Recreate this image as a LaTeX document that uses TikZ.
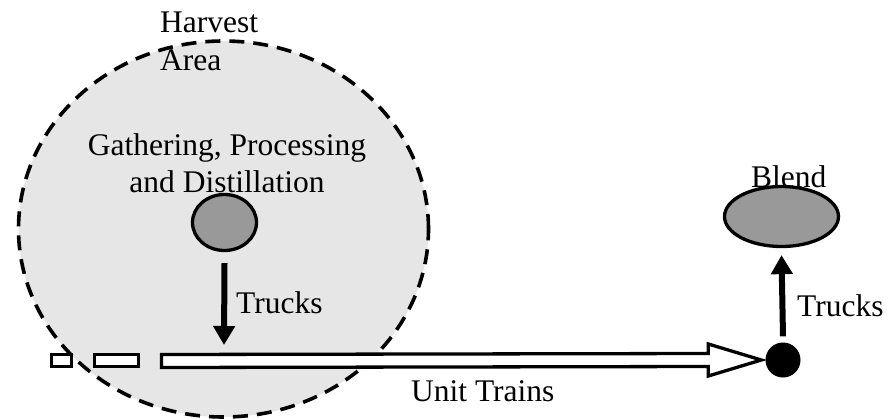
\documentclass[tikz,border=0pt]{standalone}
\usepackage{fontspec}
\setmainfont{Liberation Serif}
\usetikzlibrary{arrows.meta,calc,shapes.geometric}
\definecolor{areafill}{HTML}{E6E6E6}
\definecolor{sitefill}{HTML}{999999}
\begin{document}
\begin{tikzpicture}[x=1pt,y=-1pt,
  txt/.style={font=\fontsize{31.5}{37.5}\selectfont, inner sep=0pt},
  site/.style={shape=ellipse, draw, line width=3.3pt, fill=sitefill, inner sep=0pt},
  truckarrow/.style={line width=6pt, -{Triangle[length=19pt,width=21pt]}},
  wagon/.style={draw, line width=3.3pt, fill=white},
  trainarrow/.style={draw, line width=3.3pt, fill=white, line join=miter}]
\useasboundingbox (0,0) rectangle (892,418);

% harvest area
\node[shape=ellipse, draw, line width=3.6pt, dash pattern=on 15pt off 9pt,
      fill=areafill, minimum width=410pt, minimum height=376pt, inner sep=0pt]
  (area) at (223.5,229) {};
\node[txt, align=left, anchor=north west] (areatxt) at (160,12) {Harvest\\Area};
\node[txt, align=center, anchor=north] (gptxt) at (227,133)
  {Gathering, Processing\\and Distillation};

% processing site and blending site
\node[site, minimum width=64pt, minimum height=56pt] (proc) at (224.5,222.5) {};
\node[site, minimum width=114pt, minimum height=60pt] (blend) at (781.5,216.5) {};
\node[txt, anchor=base west] (blendtxt) at (751,187) {Blend};

% rail terminal
\node[shape=circle, fill=black, minimum size=35pt, inner sep=0pt] (dot) at (783,360) {};

% unit trains
\node[wagon, minimum width=20pt, minimum height=12pt, inner sep=0pt] (w1) at (61.5,360.5) {};
\node[wagon, minimum width=44pt, minimum height=12pt, inner sep=0pt] (w2) at (116.5,360.5) {};
\coordinate (tstart) at (161.5,361);
\coordinate (ttip) at ($(dot.west)+(-4,0)$);
\draw[trainarrow] ($(tstart)+(0,-6.5)$) -- ($(ttip)+(-53,-6.5)$) -- ($(ttip)+(-53,-16)$)
  -- (ttip) -- ($(ttip)+(-53,16)$) -- ($(ttip)+(-53,6.5)$) -- ($(tstart)+(0,6.5)$) -- cycle;
\node[txt, anchor=base west] (traintxt) at (411,401) {Unit Trains};

% trucks
\coordinate (drop) at (224,345);
\draw[truckarrow] ($(proc.south)+(0,11)$) -- (drop);
\node[txt, anchor=base west] (truck1) at (236,313) {Trucks};
\draw[truckarrow] ($(dot.north)+(0,-6)$) -- ($(blend.south)+(0,7)$);
\node[txt, anchor=base west] (truck2) at (797,316) {Trucks};
\end{tikzpicture}
\end{document}
